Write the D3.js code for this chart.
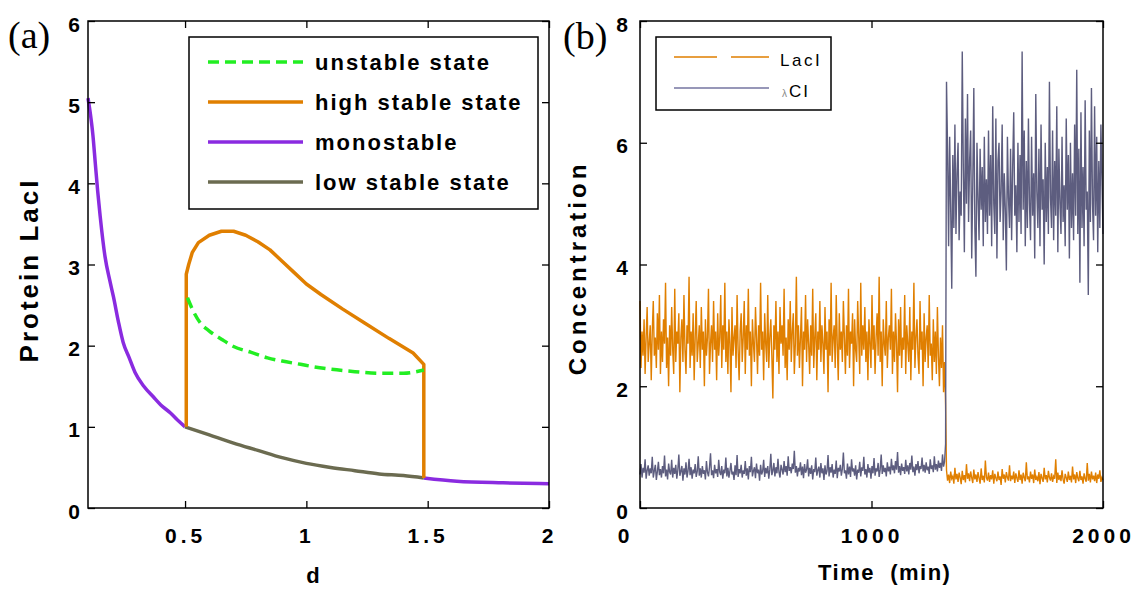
<!DOCTYPE html>
<html lang="en">
  <head>
    <meta charset="utf-8" />
    <title>LacI bistability</title>
    <script src="https://d3js.org/d3.v7.min.js"></script>
    <style type="text/css">
      body { margin: 0; background: #fff; }
      svg { font-family: "Liberation Sans", Arial, sans-serif; }
      .tick text { font-size: 21px; font-weight: bold; letter-spacing: 4px; fill: #000; }
      .tick line { stroke: #000; stroke-width: 1.3px; }
      .lab { font-weight: bold; fill: #000; }
    </style>
  </head>
  <body>
    <script type="text/javascript">
      //Width and height
      var w = 1135;
      var h = 591;

      // ---- panel (a) data: bifurcation diagram ----
      var monoLeftD = [0.10, 0.11, 0.12, 0.13, 0.14, 0.15, 0.17, 0.19, 0.205, 0.225, 0.245, 0.27, 0.294, 0.33, 0.369, 0.40, 0.44, 0.47, 0.50];
      var monoLeftLacI = [5.05, 4.85, 4.6, 4.25, 3.9, 3.6, 3.1, 2.8, 2.6, 2.3, 2.04, 1.85, 1.67, 1.5, 1.37, 1.27, 1.17, 1.08, 1.0];
      var monoRightD = [1.484, 1.62, 1.81, 2.0];
      var monoRightLacI = [0.37, 0.33, 0.31, 0.30];
      var lowD = [0.5, 0.6, 0.7, 0.8, 0.9, 1.0, 1.1, 1.2, 1.3, 1.4, 1.484];
      var lowLacI = [1.0, 0.9, 0.8, 0.71, 0.62, 0.55, 0.5, 0.46, 0.42, 0.4, 0.37];
      var highD = [0.505, 0.505, 0.515, 0.53, 0.555, 0.6, 0.65, 0.7, 0.75, 0.8, 0.85, 0.9, 0.95, 1.0, 1.06, 1.15, 1.24, 1.34, 1.44, 1.484, 1.484];
      var highLacI = [1.0, 2.88, 3.0, 3.15, 3.27, 3.36, 3.41, 3.41, 3.36, 3.28, 3.18, 3.04, 2.9, 2.76, 2.63, 2.45, 2.28, 2.09, 1.91, 1.77, 0.37];
      var unstD = [0.51, 0.53, 0.563, 0.6, 0.65, 0.7, 0.77, 0.84, 0.9, 0.976, 1.03, 1.1, 1.2, 1.31, 1.4, 1.484];
      var unstLacI = [2.59, 2.45, 2.28, 2.18, 2.08, 1.99, 1.92, 1.85, 1.81, 1.77, 1.74, 1.71, 1.68, 1.66, 1.66, 1.70];

      var aXTicks = [0.5, 1, 1.5, 2];
      var aYTicks = [0, 1, 2, 3, 4, 5, 6];
      var aLegend = ["unstable state", "high stable state", "monostable", "low stable state"];

      // ---- panel (b) data: stochastic time course, switch at ~1320 min ----
      var switchTime = 1320;
      var endTime = 2000;
      var lacIBefore = [
        3.4,2.3,2.9,2.5,3.1,2.2,2.8,3.3,2.4,2.7,3.0,2.1,2.9,3.4,2.5,2.8,2.3,3.2,2.6,3.5,
        2.2,2.9,2.4,3.1,2.7,3.7,2.3,2.8,2.0,3.0,2.5,3.3,2.6,2.2,3.6,2.4,2.9,2.7,3.2,1.9,
        2.8,3.1,2.4,3.5,2.6,2.2,3.0,2.7,3.8,2.3,2.9,2.5,3.2,2.1,2.8,3.4,2.4,2.7,3.0,2.3,
        3.3,2.6,2.9,2.0,3.1,2.5,2.8,3.6,2.2,2.7,3.0,2.4,3.4,2.6,2.9,2.1,3.2,2.5,2.8,3.5,
        2.3,3.0,2.6,3.7,2.4,2.9,2.2,3.1,2.7,1.9,3.3,2.5,2.8,3.0,2.3,3.5,2.6,2.1,2.9,3.2,
        2.4,2.8,3.4,2.2,3.0,2.6,3.6,2.5,2.9,2.0,3.1,2.7,2.4,3.3,2.8,2.2,3.0,2.5,3.7,2.6,
        2.9,2.1,3.2,2.7,2.4,3.5,2.3,2.8,3.1,2.5,1.8,3.0,2.6,3.4,2.4,2.9,2.2,3.3,2.7,3.0,
        2.5,3.6,2.3,2.8,2.1,3.1,2.6,3.4,2.4,2.9,3.2,2.2,2.7,3.8,2.5,3.0,2.3,2.8,3.3,2.0,
        2.9,2.6,3.5,2.4,3.1,2.7,2.2,3.0,2.5,3.6,2.3,2.8,3.2,2.1,2.9,2.6,3.4,2.4,3.0,2.7,
        2.2,3.3,2.6,2.9,1.9,3.1,2.5,3.7,2.4,2.8,3.0,2.3,3.5,2.7,2.1,3.2,2.6,2.9,2.4,3.4,
        2.8,2.2,3.0,2.5,3.6,2.3,2.9,2.7,3.2,2.0,3.1,2.6,2.4,3.4,2.8,2.2,3.7,2.5,3.0,2.6,
        3.3,2.4,2.9,2.1,3.1,2.7,2.3,3.5,2.6,3.0,2.2,2.8,3.2,2.5,3.8,2.4,2.9,2.0,3.1,2.7,
        2.5,3.4,2.3,2.8,3.0,2.6,3.6,2.2,2.9,2.4,3.2,2.7,1.9,3.1,2.5,3.3,2.3,2.8,2.6,3.5,
        2.2,3.0,2.7,2.4,3.3,2.1,2.9,2.6,3.7,2.3,2.8,3.1,2.5,2.2,3.4,2.6,2.9,2.0,3.2,2.4,
        2.8,3.0,2.3,3.5,2.5,2.7,2.1,3.1,2.4,2.9,2.2,3.3,2.5,2.0,2.8,2.3,3.0,1.9,2.4,1.7
      ];
      var lacIAfter = [
        0.62,0.45,0.55,0.41,0.6,0.48,0.52,0.4,0.66,0.47,0.56,0.43,0.58,0.5,0.39,0.61,0.46,0.54,0.42,0.72,
        0.48,0.57,0.44,0.6,0.5,0.41,0.63,0.47,0.55,0.43,0.59,0.49,0.4,0.65,0.46,0.53,0.42,0.78,0.5,0.45,
        0.58,0.43,0.54,0.47,0.62,0.4,0.56,0.49,0.44,0.6,0.46,0.52,0.38,0.64,0.48,0.55,0.42,0.59,0.5,0.45,
        0.7,0.44,0.53,0.47,0.6,0.41,0.57,0.49,0.43,0.62,0.46,0.55,0.4,0.58,0.5,0.44,0.75,0.47,0.52,0.42,
        0.6,0.48,0.55,0.41,0.63,0.46,0.51,0.44,0.59,0.39,0.56,0.49,0.43,0.66,0.47,0.54,0.42,0.61,0.5,0.45,
        0.57,0.43,0.52,0.48,0.8,0.41,0.58,0.46,0.54,0.44,0.62,0.47,0.4,0.56,0.5,0.43,0.6,0.46,0.53,0.42,
        0.68,0.47,0.55,0.41,0.59,0.49,0.44,0.61,0.46,0.52,0.4,0.57,0.48,0.43,0.74,0.45,0.56,0.42,0.6,0.47,
        0.53,0.44,0.58,0.41,0.55,0.48,0.62,0.43,0.5,0.46
      ];
      var lambdaCIBefore = [
        0.55,0.72,0.5,0.66,0.58,0.8,0.48,0.62,0.7,0.53,0.65,0.57,0.84,0.5,0.61,0.71,0.46,0.6,0.76,0.54,
        0.64,0.5,0.69,0.57,0.86,0.52,0.63,0.47,0.73,0.59,0.55,0.79,0.5,0.66,0.56,0.71,0.48,0.62,0.88,0.53,
        0.6,0.69,0.45,0.65,0.55,0.75,0.5,0.61,0.81,0.54,0.67,0.48,0.63,0.57,0.72,0.51,0.6,0.85,0.53,0.65,
        0.5,0.69,0.56,0.62,0.47,0.77,0.59,0.52,0.67,0.9,0.54,0.62,0.49,0.71,0.57,0.64,0.51,0.79,0.59,0.54,
        0.69,0.48,0.63,0.57,0.83,0.52,0.66,0.5,0.61,0.74,0.55,0.6,0.46,0.7,0.54,0.87,0.51,0.64,0.57,0.71,
        0.5,0.62,0.56,0.77,0.53,0.65,0.47,0.69,0.59,0.84,0.52,0.61,0.67,0.49,0.73,0.57,0.63,0.45,0.71,0.55,
        0.6,0.79,0.51,0.66,0.57,0.69,0.48,0.63,0.89,0.54,0.61,0.74,0.52,0.67,0.57,0.81,0.59,0.5,0.71,0.63,
        0.55,0.77,0.59,0.69,0.53,0.85,0.61,0.67,0.57,0.73,0.64,0.94,0.58,0.69,0.52,0.66,0.6,0.75,0.54,0.68,
        0.49,0.72,0.58,0.63,0.8,0.52,0.66,0.56,0.7,0.47,0.64,0.59,0.83,0.53,0.62,0.68,0.5,0.74,0.57,0.65,
        0.46,0.7,0.55,0.61,0.87,0.52,0.67,0.58,0.72,0.5,0.63,0.56,0.78,0.49,0.66,0.6,0.71,0.53,0.64,0.91,
        0.57,0.62,0.48,0.73,0.55,0.68,0.51,0.8,0.6,0.65,0.53,0.7,0.47,0.63,0.58,0.76,0.52,0.67,0.61,0.84,
        0.55,0.64,0.5,0.72,0.58,0.66,0.48,0.69,0.57,0.82,0.53,0.65,0.6,0.74,0.51,0.63,0.88,0.56,0.7,0.59,
        0.66,0.52,0.75,0.6,0.68,0.55,0.81,0.62,0.7,0.57,0.77,0.63,0.92,0.58,0.69,0.54,0.73,0.61,0.67,0.56,
        0.79,0.6,0.7,0.55,0.74,0.63,0.86,0.59,0.68,0.53,0.72,0.62,0.77,0.57,0.69,0.64,0.83,0.6,0.71,0.58,
        0.75,0.62,0.68,0.56,0.8,0.64,0.7,0.59,0.85,0.63,0.72,0.6,0.78,0.66,0.74,0.61,0.88,0.68,0.76,1.05
      ];
      var lambdaCIAfter = [
        7.0,5.9,4.3,6.1,4.9,3.6,5.8,4.6,6.3,4.5,5.5,6.0,4.4,5.2,4.8,7.5,5.6,4.2,6.4,5.0,
        6.8,4.7,5.7,6.2,4.1,5.3,6.9,4.6,3.8,6.0,5.1,4.4,5.9,4.9,5.6,4.3,6.1,4.7,5.4,4.5,
        6.2,4.8,5.8,4.3,6.6,5.0,4.5,6.4,4.1,5.7,6.0,4.7,5.2,6.3,4.4,5.5,4.9,3.9,6.1,5.1,
        4.6,5.9,4.4,5.6,6.5,4.8,5.3,4.2,6.0,4.7,5.8,4.5,7.5,4.9,6.2,4.3,5.7,4.6,6.4,5.0,
        4.4,6.1,4.8,5.5,4.1,6.8,5.2,4.6,5.9,4.3,6.3,4.9,5.4,4.0,6.0,4.7,5.6,4.5,7.0,5.1,
        4.6,6.2,4.4,5.7,4.8,6.6,4.2,5.9,5.0,4.5,6.1,4.7,5.3,4.3,6.4,4.9,5.8,4.1,6.0,4.6,
        5.5,4.4,6.3,4.8,7.2,4.5,5.9,3.7,6.5,4.6,5.6,4.3,6.7,4.9,5.2,3.5,6.2,4.7,6.9,5.0,
        4.4,6.6,4.8,6.1,4.2,5.7,4.6,6.3,5.4,4.5
      ];
      var bXTicks = [0, 1000, 2000];
      var bYTicks = [0, 2, 4, 6, 8];

      var colPurple = "#8a2be0";
      var colOrange = "#e07f00";
      var colOlive = "#6b6b50";
      var colGreen = "#22ee22";
      var colSlate = "#5d5d7f";

      //Create SVG element
      var svg = d3.select("body").append("svg").attr("width", w).attr("height", h);

      // draws box, inward ticks on all four sides, labels left and bottom
      function frame(g, x, y, xt, yt, yPad) {
        var x0 = x.range()[0], x1 = x.range()[1], y0 = y.range()[0], y1 = y.range()[1];
        g.append("g").attr("class", "xax").attr("transform", "translate(0," + y0 + ")")
          .call(d3.axisBottom(x).tickValues(xt).tickSize(-7).tickPadding(20).tickFormat(d3.format("")))
          .call(function (a) { a.select(".domain").remove(); });
        g.append("g").attr("transform", "translate(0," + y1 + ")")
          .call(d3.axisTop(x).tickValues(xt).tickSize(-7).tickFormat(""))
          .call(function (a) { a.select(".domain").remove(); });
        g.append("g").attr("transform", "translate(" + x0 + ",0)")
          .call(d3.axisLeft(y).tickValues(yt).tickSize(-7).tickPadding(yPad).tickFormat(d3.format("")))
          .call(function (a) { a.select(".domain").remove(); a.selectAll("text").attr("dy", "0.48em"); });
        g.append("g").attr("transform", "translate(" + x1 + ",0)")
          .call(d3.axisRight(y).tickValues(yt).tickSize(-7).tickFormat(""))
          .call(function (a) { a.select(".domain").remove(); });
        g.append("rect").attr("x", x0).attr("y", y1).attr("width", x1 - x0).attr("height", y0 - y1)
          .attr("fill", "none").attr("stroke", "#000").attr("stroke-width", 1.5);
        g.selectAll(".tick text").attr("font-family", null).attr("font-size", null);
      }

      // ================= panel (a) =================
      var xA = d3.scaleLinear().domain([0.1, 2]).range([88, 549]);
      var yA = d3.scaleLinear().domain([0, 6]).range([508, 21]);
      var gA = svg.append("g");

      var lineA = d3.line()
        .x(function (d) { return xA(d[0]); })
        .y(function (d) { return yA(d[1]); })
        .curve(d3.curveMonotoneX);
      var lineAStraight = d3.line()
        .x(function (d) { return xA(d[0]); })
        .y(function (d) { return yA(d[1]); });

      function curve(ds, vs, col, dash, straight) {
        gA.append("path")
          .datum(d3.zip(ds, vs))
          .attr("d", straight ? lineAStraight : lineA)
          .attr("fill", "none")
          .attr("stroke", col)
          .attr("stroke-width", 3.5)
          .attr("stroke-linejoin", "round")
          .attr("stroke-dasharray", dash || null);
      }
      curve(monoLeftD, monoLeftLacI, colPurple);
      curve(monoRightD, monoRightLacI, colPurple);
      curve(lowD, lowLacI, colOlive);
      curve(highD, highLacI, colOrange, null, true);
      curve(unstD, unstLacI, colGreen, "11,6");

      frame(gA, xA, yA, aXTicks, aYTicks, 4);

      // legend (a)
      var legA = gA.append("g");
      legA.append("rect").attr("x", 189).attr("y", 37).attr("width", 349).attr("height", 172)
        .attr("fill", "#fff").attr("stroke", "#000").attr("stroke-width", 1.5);
      var legAStyle = [[colGreen, "11,6"], [colOrange, null], [colPurple, null], [colOlive, null]];
      aLegend.forEach(function (t, i) {
        var yy = 62 + i * 40;
        legA.append("line").attr("x1", 208).attr("x2", 303).attr("y1", yy).attr("y2", yy)
          .attr("stroke", legAStyle[i][0]).attr("stroke-width", 3.5)
          .attr("stroke-dasharray", legAStyle[i][1]);
        legA.append("text").attr("x", 315).attr("y", yy + 8).attr("class", "lab")
          .style("font-size", "22px").style("letter-spacing", "2px").text(t);
      });

      gA.append("text").attr("class", "lab").attr("transform", "translate(38,270) rotate(-90)")
        .attr("text-anchor", "middle").style("font-size", "26px").style("letter-spacing", "3px")
        .text("Protein LacI");
      gA.append("text").attr("class", "lab").attr("x", 313).attr("y", 583)
        .attr("text-anchor", "middle").style("font-size", "22px").text("d");
      gA.append("text").attr("x", 8).attr("y", 48).attr("font-family", "Liberation Serif, serif")
        .attr("font-size", 38).text("(a)");

      // ================= panel (b) =================
      var xB = d3.scaleLinear().domain([0, endTime]).range([640, 1103]);
      var yB = d3.scaleLinear().domain([0, 8]).range([508, 21]);
      var gB = svg.append("g");

      // sample times: evenly spaced before and after the switch
      function series(before, after) {
        var pts = before.map(function (v, i) {
          return [switchTime * i / (before.length - 1), v];
        });
        after.forEach(function (v, i) {
          pts.push([switchTime + 4 + (endTime - switchTime - 4) * i / (after.length - 1), v]);
        });
        return pts;
      }

      var lineB = d3.line()
        .x(function (d) { return xB(d[0]); })
        .y(function (d) { return yB(d[1]); });

      gB.append("path").datum(series(lacIBefore, lacIAfter)).attr("d", lineB).attr("fill", "none")
        .attr("stroke", colOrange).attr("stroke-width", 1.4);
      gB.append("path").datum(series(lambdaCIBefore, lambdaCIAfter)).attr("d", lineB).attr("fill", "none")
        .attr("stroke", colSlate).attr("stroke-width", 1.4);

      frame(gB, xB, yB, bXTicks, bYTicks, 8);
      // the "0" on the time axis sits left of the corner in the original
      gB.select(".xax").selectAll(".tick text").filter(function (d) { return d === 0; })
        .attr("dx", "-15");

      // legend (b)
      var legB = gB.append("g");
      legB.append("rect").attr("x", 656).attr("y", 37).attr("width", 175).attr("height", 73)
        .attr("fill", "#fff").attr("stroke", "#000").attr("stroke-width", 1.5);
      legB.append("line").attr("x1", 674).attr("x2", 769).attr("y1", 57).attr("y2", 57)
        .attr("stroke", colOrange).attr("stroke-width", 1.5).attr("stroke-dasharray", "43,14");
      legB.append("line").attr("x1", 674).attr("x2", 769).attr("y1", 88).attr("y2", 88)
        .attr("stroke", "#7474a0").attr("stroke-width", 1.5);
      legB.append("text").attr("x", 780).attr("y", 66).style("font-size", "17px")
        .style("letter-spacing", "2.5px").text("LacI");
      var lt = legB.append("text").attr("x", 782).attr("y", 97).style("font-size", "17px")
        .style("letter-spacing", "2px");
      lt.append("tspan").style("font-size", "10px").attr("fill", "#888").text("λ");
      lt.append("tspan").text("CI");

      gB.append("text").attr("class", "lab").attr("transform", "translate(586,268) rotate(-90)")
        .attr("text-anchor", "middle").style("font-size", "24px").style("letter-spacing", "4px")
        .text("Concentration");
      gB.append("text").attr("class", "lab").attr("x", 818).attr("y", 580)
        .style("font-size", "22px").style("letter-spacing", "1.5px").style("white-space", "pre")
        .text("Time  (min)");
      gB.append("text").attr("x", 563).attr("y", 49).attr("font-family", "Liberation Serif, serif")
        .attr("font-size", 38).text("(b)");
    </script>
  </body>
</html>
